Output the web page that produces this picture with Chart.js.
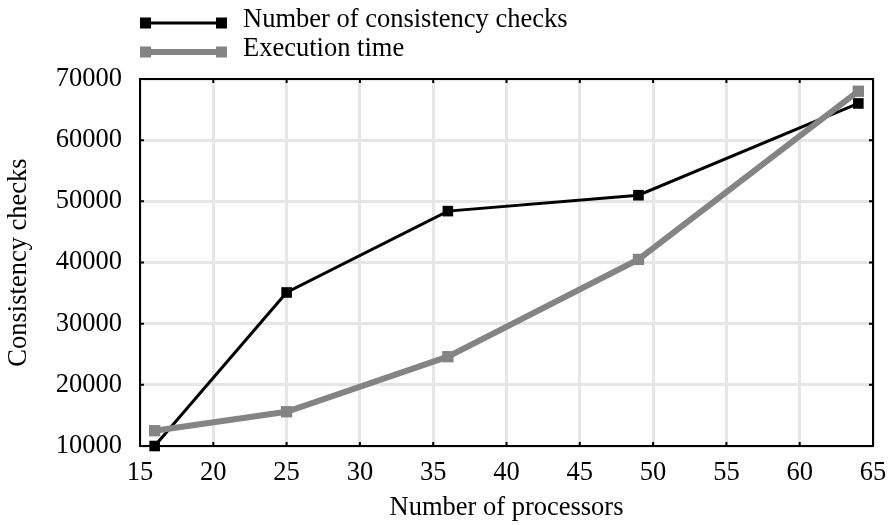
<!DOCTYPE html>
<html>
<head>
<meta charset="utf-8">
<script src="https://cdn.jsdelivr.net/npm/chart.js@4.4.1/dist/chart.umd.min.js"></script>
<style>
  html, body { margin: 0; padding: 0; background: #fff; }
  #wrap { width: 890px; height: 525px; }
</style>
</head>
<body>
<div id="wrap"><canvas id="chart" width="890" height="525"></canvas></div>
<script>
// data
var processors = [16, 25, 36, 49, 64];
var consistencyChecks = [10000, 35100, 48400, 51000, 66000];
var executionTime = [12500, 15600, 24600, 40500, 68000];
var seriesNames = ['Number of consistency checks', 'Execution time'];

var FONT = '"Liberation Serif", "Times New Roman", serif';
var FSIZE = 26.5;
var BLACK = '#000000';
var GRAY = '#848484';

function toPoints(xs, ys) {
    return xs.map(function (x, i) { return { x: x, y: ys[i] }; });
}

// box around the plot, inward tick marks and the legend
var framePlugin = {
    id: 'frame',
    afterDraw: function (chart) {
        var ctx = chart.ctx;
        var a = chart.chartArea;
        var xs = chart.scales.x, ys = chart.scales.y;
        ctx.save();
        ctx.strokeStyle = '#000';
        ctx.lineWidth = 2;
        ctx.strokeRect(a.left, a.top, a.right - a.left, a.bottom - a.top);
        ctx.beginPath();
        xs.ticks.forEach(function (t) {
            var px = xs.getPixelForValue(t.value);
            ctx.moveTo(px, a.bottom); ctx.lineTo(px, a.bottom - 4);
            ctx.moveTo(px, a.top); ctx.lineTo(px, a.top + 4);
        });
        ys.ticks.forEach(function (t) {
            var py = ys.getPixelForValue(t.value);
            ctx.moveTo(a.left, py); ctx.lineTo(a.left + 4, py);
            ctx.moveTo(a.right, py); ctx.lineTo(a.right - 4, py);
        });
        ctx.stroke();

        // legend
        var rows = [
            { ds: chart.data.datasets[0], y: 23, base: 27 },
            { ds: chart.data.datasets[1], y: 52, base: 56 }
        ];
        rows.forEach(function (r) {
            ctx.strokeStyle = r.ds.borderColor;
            ctx.lineWidth = r.ds.borderWidth;
            ctx.beginPath();
            ctx.moveTo(145, r.y); ctx.lineTo(222, r.y);
            ctx.stroke();
            ctx.fillStyle = r.ds.pointBackgroundColor;
            ctx.fillRect(140, r.y - 5.5, 11, 11);
            ctx.fillRect(216, r.y - 5.5, 11, 11);
            ctx.fillStyle = '#000';
            ctx.font = FSIZE + 'px ' + FONT;
            ctx.textBaseline = 'alphabetic';
            ctx.textAlign = 'left';
            ctx.fillText(r.ds.label, 243, r.base);
        });
        ctx.restore();
    }
};

var ctx = document.getElementById('chart').getContext('2d');
var chart = new Chart(ctx, {
    type: 'line',
    data: {
        datasets: [{
            label: seriesNames[0],
            data: toPoints(processors, consistencyChecks),
            borderColor: BLACK,
            backgroundColor: BLACK,
            pointBackgroundColor: BLACK,
            borderWidth: 3,
            pointStyle: 'rect',
            pointRadius: 7.5,
            pointBorderWidth: 0,
            tension: 0,
            clip: false,
            order: 1
        }, {
            label: seriesNames[1],
            data: toPoints(processors, executionTime),
            borderColor: GRAY,
            backgroundColor: GRAY,
            pointBackgroundColor: GRAY,
            borderWidth: 6,
            pointStyle: 'rect',
            pointRadius: 8,
            pointBorderWidth: 0,
            tension: 0,
            clip: false,
            order: 0
        }]
    },
    options: {
        responsive: false,
        animation: false,
        devicePixelRatio: 1,
        layout: { padding: { top: 79, right: 17, bottom: 0, left: 0 } },
        plugins: {
            legend: { display: false },
            tooltip: { enabled: false }
        },
        scales: {
            x: {
                type: 'linear',
                min: 15,
                max: 65,
                afterFit: function (s) {
                    s.height = 79;
                    s.paddingLeft = 0;
                    s.paddingRight = 0;
                },
                ticks: {
                    stepSize: 5,
                    padding: 11,
                    color: '#000',
                    font: { family: FONT, size: FSIZE }
                },
                grid: { color: '#e6e6e6', lineWidth: 3, drawTicks: false },
                border: { display: false },
                title: {
                    display: true,
                    text: 'Number of processors',
                    color: '#000',
                    font: { family: FONT, size: FSIZE },
                    padding: { top: 0, bottom: 1 }
                }
            },
            y: {
                type: 'linear',
                min: 10000,
                max: 70000,
                afterFit: function (s) { s.width = 140; },
                ticks: {
                    stepSize: 10000,
                    padding: 18,
                    color: '#000',
                    font: { family: FONT, size: FSIZE },
                    callback: function (v) { return String(v); }
                },
                grid: { color: '#e6e6e6', lineWidth: 3, drawTicks: false },
                border: { display: false },
                title: {
                    display: true,
                    text: 'Consistency checks',
                    color: '#000',
                    font: { family: FONT, size: FSIZE },
                    padding: { top: 3, bottom: 0 }
                }
            }
        }
    },
    plugins: [framePlugin]
});
</script>
</body>
</html>
